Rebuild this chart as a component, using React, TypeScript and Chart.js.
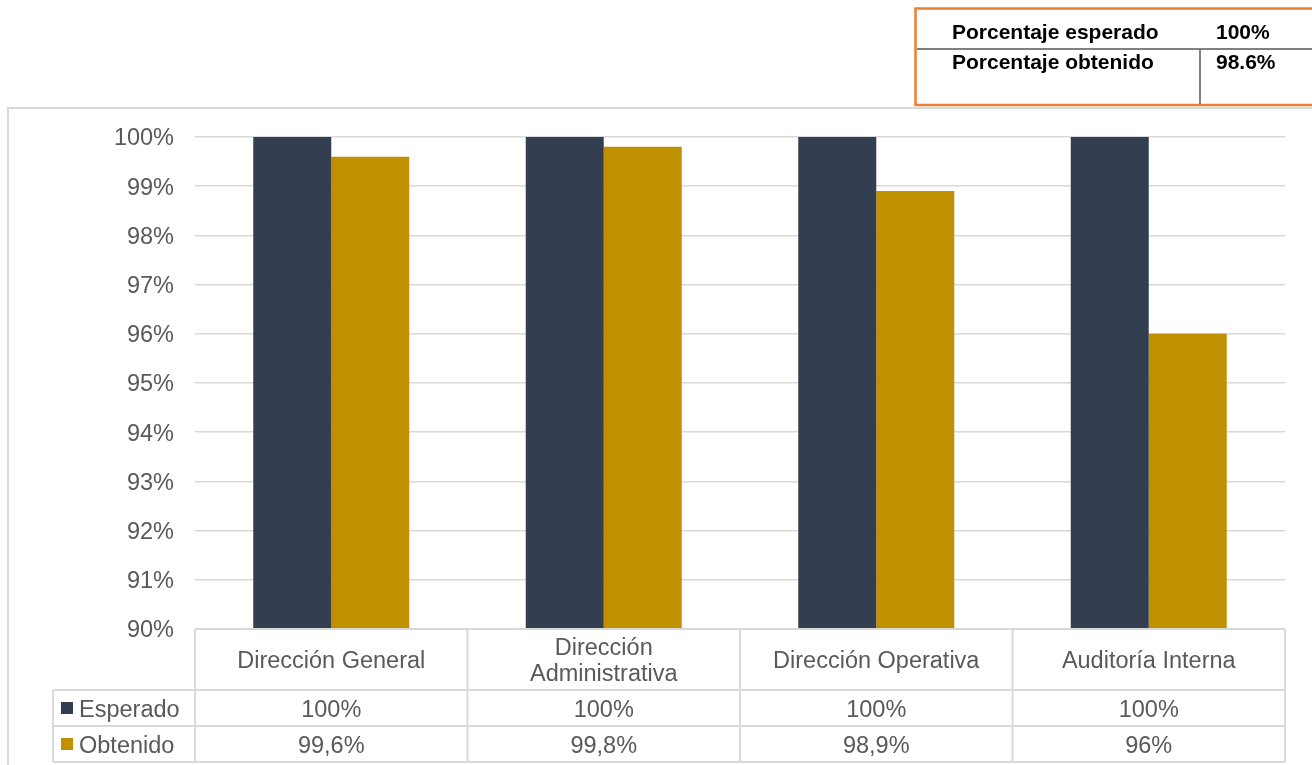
import React, { useEffect, useRef } from "react";
import { Chart, registerables } from "chart.js";

Chart.register(...registerables);

// Units evaluated
const categories = [
  "Dirección General",
  "Dirección Administrativa",
  "Dirección Operativa",
  "Auditoría Interna",
];

// Series
const seriesNames = ["Esperado", "Obtenido"];
const expectedValues = [100, 100, 100, 100];
const obtainedValues = [99.6, 99.8, 98.9, 96];
const seriesColors = ["#333F50", "#BF9000"];

// Y axis range (percent)
const yMin = 90;
const yMax = 100;
const yStep = 1;

// Summary box in the top-right corner
const summaryLabels = ["Porcentaje esperado", "Porcentaje obtenido"];
const summaryValues = [100, 98.6];

const FONT = "'Liberation Sans', Arial, sans-serif";
const TEXT = "#595959";
const GRID = "#D9D9D9";

// Data-table values use a decimal comma
const fmtTable = (v: number) =>
  (Number.isInteger(v) ? String(v) : v.toFixed(1).replace(".", ",")) + "%";
const fmtSummary = (v: number) =>
  (Number.isInteger(v) ? String(v) : v.toFixed(1)) + "%";

function wrapText(ctx: CanvasRenderingContext2D, text: string, maxW: number): string[] {
  const words = text.split(" ");
  const lines: string[] = [];
  let cur = "";
  for (const w of words) {
    const test = cur ? cur + " " + w : w;
    if (cur && ctx.measureText(test).width > maxW) {
      lines.push(cur);
      cur = w;
    } else {
      cur = test;
    }
  }
  if (cur) lines.push(cur);
  return lines;
}

const overlayPlugin = {
  id: "overlayTables",
  afterDraw(chart: any) {
    const ctx: CanvasRenderingContext2D = chart.ctx;
    const { left, right, bottom } = chart.chartArea;
    const xs = chart.scales.x;
    const W = chart.width;
    const H = chart.height;

    ctx.save();

    // Outer chart frame
    ctx.strokeStyle = GRID;
    ctx.lineWidth = 2;
    ctx.beginPath();
    ctx.moveTo(8, H + 2);
    ctx.lineTo(8, 108);
    ctx.lineTo(W + 2, 108);
    ctx.stroke();

    // Summary box
    ctx.strokeStyle = "#ED7D31";
    ctx.lineWidth = 2.5;
    ctx.strokeRect(915.5, 8.5, W, 96.5);
    ctx.strokeStyle = "#808080";
    ctx.lineWidth = 2;
    ctx.beginPath();
    ctx.moveTo(917, 49);
    ctx.lineTo(W, 49);
    ctx.moveTo(1200, 49);
    ctx.lineTo(1200, 104);
    ctx.stroke();

    ctx.fillStyle = "#000000";
    ctx.font = `bold 21px ${FONT}`;
    ctx.textAlign = "left";
    ctx.textBaseline = "alphabetic";
    const summaryBase = [39, 69];
    summaryLabels.forEach((lab, i) => {
      ctx.fillText(lab, 952, summaryBase[i]);
      ctx.fillText(fmtSummary(summaryValues[i]), 1216, summaryBase[i]);
    });

    // Data table under the plot
    const headerH = 61;
    const rowH = 36;
    const legendLeft = 53;
    const r1 = bottom + headerH;
    const r2 = r1 + rowH;
    const r3 = r2 + rowH;
    const half = (xs.getPixelForValue(1) - xs.getPixelForValue(0)) / 2;

    ctx.strokeStyle = GRID;
    ctx.lineWidth = 2;
    ctx.beginPath();
    ctx.moveTo(left, bottom);
    ctx.lineTo(right, bottom);
    [r1, r2, r3].forEach((y) => {
      ctx.moveTo(legendLeft, y);
      ctx.lineTo(right, y);
    });
    ctx.moveTo(legendLeft, r1);
    ctx.lineTo(legendLeft, r3);
    ctx.moveTo(left, bottom);
    ctx.lineTo(left, r3);
    categories.forEach((_, i) => {
      const xr = xs.getPixelForValue(i) + half;
      ctx.moveTo(xr, bottom);
      ctx.lineTo(xr, r3);
    });
    ctx.stroke();

    ctx.font = `23.5px ${FONT}`;
    ctx.fillStyle = TEXT;
    ctx.textAlign = "center";
    ctx.textBaseline = "alphabetic";
    const lineH = 26;
    const capHalf = 8.4;
    categories.forEach((cat, i) => {
      const cx = xs.getPixelForValue(i);
      const lines = wrapText(ctx, cat, half * 2 * 0.85);
      const cy = bottom + headerH / 2 + 0.5;
      lines.forEach((ln, k) => {
        ctx.fillText(ln, cx, cy + capHalf + (k - (lines.length - 1) / 2) * lineH);
      });
      ctx.fillText(fmtTable(expectedValues[i]), cx, r1 + 27);
      ctx.fillText(fmtTable(obtainedValues[i]), cx, r2 + 27);
    });

    // Legend keys in the data table
    ctx.textAlign = "left";
    [r1, r2].forEach((y, k) => {
      ctx.fillStyle = seriesColors[k];
      ctx.fillRect(61, y + 12, 12, 12);
      ctx.fillStyle = TEXT;
      ctx.fillText(seriesNames[k], 79, y + 27);
    });

    ctx.restore();
  },
};

export default function App() {
  const canvasRef = useRef<HTMLCanvasElement | null>(null);

  useEffect(() => {
    const canvas = canvasRef.current;
    if (!canvas) return;
    const chart = new Chart(canvas, {
      type: "bar",
      data: {
        labels: categories,
        datasets: [
          {
            label: seriesNames[0],
            data: expectedValues,
            backgroundColor: seriesColors[0],
            borderWidth: 0,
            categoryPercentage: 0.5725,
            barPercentage: 1,
          },
          {
            label: seriesNames[1],
            data: obtainedValues,
            backgroundColor: seriesColors[1],
            borderWidth: 0,
            categoryPercentage: 0.5725,
            barPercentage: 1,
          },
        ],
      },
      options: {
        responsive: false,
        animation: false,
        devicePixelRatio: 1,
        layout: { padding: { top: 137, right: 27, bottom: 136, left: 0 } },
        plugins: {
          legend: { display: false },
          tooltip: { enabled: false },
        },
        scales: {
          x: {
            display: false,
            grid: { display: false },
          },
          y: {
            min: yMin,
            max: yMax,
            border: { display: false },
            grid: { color: GRID, lineWidth: 1.5, drawTicks: false },
            ticks: {
              stepSize: yStep,
              padding: 21,
              labelOffset: 2,
              color: TEXT,
              font: { family: FONT, size: 23.5 },
              callback: (v: any) => `${v}%`,
            },
            afterFit: (scale: any) => {
              scale.width = 195;
              scale.paddingTop = 0;
              scale.paddingBottom = 0;
            },
          },
        },
      },
      plugins: [overlayPlugin],
    });
    return () => chart.destroy();
  }, []);

  return (
    <div style={{ position: "absolute", left: 0, top: 0, width: 1312, height: 765, background: "#fff" }}>
      <canvas ref={canvasRef} width={1312} height={765} />
    </div>
  );
}
